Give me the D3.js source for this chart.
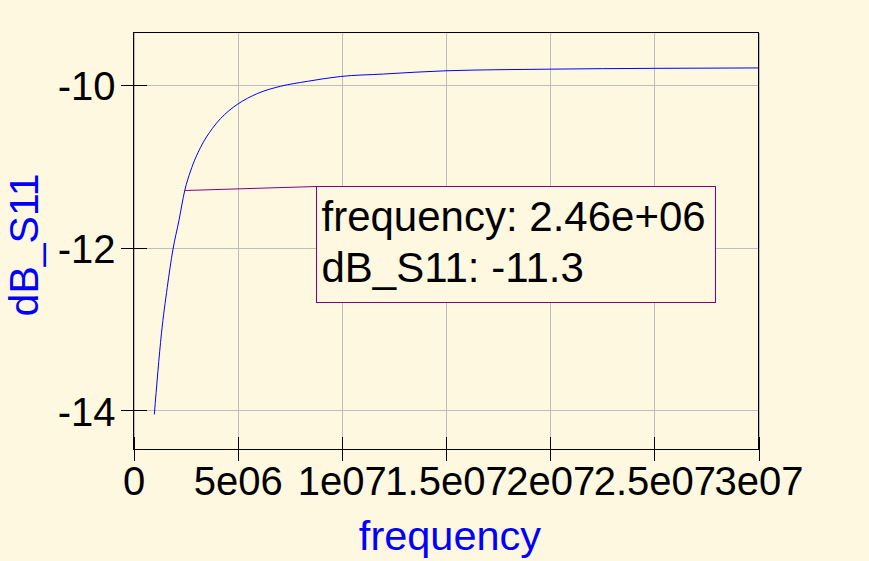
<!DOCTYPE html>
<html>
<head>
<meta charset="utf-8">
<style>
  body { margin: 0; background: #fff8e1; }
  svg { display: block; font-family: "Liberation Sans", Arial, sans-serif; }
  .grid line { stroke: #bdbdbd; shape-rendering: crispEdges; }
  .grid path { display: none; }
  .ticks line { stroke: #000; shape-rendering: crispEdges; }
  .ticks path { display: none; }
  .ticks text { font-size: 40px; fill: #000; font-family: "Liberation Sans", Arial, sans-serif; }
</style>
</head>
<body>
<script src="https://d3js.org/d3.v7.min.js"></script>
<script>

var width = 869,
    height = 561;

// plot frame
var plotLeft = 133.5, plotRight = 758.5, plotTop = 32.5, plotBottom = 449.5;

// data
var frequency = [1.0e6, 1.34e6, 1.62e6, 1.89e6, 2.18e6, 2.46e6, 2.74e6, 3.22e6, 3.78e6,
                 4.58e6, 5.0e6, 5.94e6, 7.06e6, 8.34e6, 9.94e6, 1.2e7, 1.5e7, 2.0e7, 2.5e7, 3.0e7];
var dB_S11 = [-14.05, -13.06, -12.49, -12.03, -11.67, -11.3, -11.06, -10.77, -10.54,
              -10.32, -10.24, -10.11, -10.02, -9.96, -9.90, -9.87, -9.83, -9.81, -9.80, -9.795];

var xTicks = [0, 5e6, 1e7, 1.5e7, 2e7, 2.5e7, 3e7];
var xTickLabels = ["0", "5e06", "1e07", "1.5e07", "2e07", "2.5e07", "3e07"];
var yTicks = [-14, -12, -10];
var yTickLabels = ["-14", "-12", "-10"];

// marker
var markerFreq = 2.46e6;
var markerDb = -11.3;

var svg = d3.select("body").append("svg")
    .attr("width", width)
    .attr("height", height);

svg.append("rect")
    .attr("width", width)
    .attr("height", height)
    .attr("fill", "#fff8e1");

var x = d3.scaleLinear().domain([0, 3e7]).range([plotLeft, plotRight]);
var y = d3.scaleLinear().domain([-14.48, -9.36]).range([plotBottom, plotTop]);

// grid
svg.append("g")
    .attr("class", "grid")
    .attr("transform", "translate(0," + (plotBottom - 13) + ")")
    .call(d3.axisBottom(x).tickValues(xTicks).tickSize(-(plotBottom - 13 - plotTop)).tickFormat(""));

svg.append("g")
    .attr("class", "grid")
    .attr("transform", "translate(" + (plotLeft + 13) + ",0)")
    .call(d3.axisLeft(y).tickValues(yTicks).tickSize(-(plotRight - plotLeft - 13)).tickFormat(""));

// frame
svg.append("rect")
    .attr("x", plotLeft)
    .attr("y", plotTop)
    .attr("width", plotRight - plotLeft)
    .attr("height", plotBottom - plotTop)
    .attr("fill", "none")
    .attr("stroke", "#000")
    .attr("shape-rendering", "crispEdges");

// x ticks (outside with labels, inside without)
svg.append("g")
    .attr("class", "ticks")
    .attr("transform", "translate(0," + plotBottom + ")")
    .call(d3.axisBottom(x).tickValues(xTicks).tickSize(11).tickPadding(6)
      .tickFormat(function(d, i) { return xTickLabels[i]; }));

svg.append("g")
    .attr("class", "ticks")
    .attr("transform", "translate(0," + plotBottom + ")")
    .call(d3.axisBottom(x).tickValues(xTicks).tickSize(-13).tickFormat(""));

// y ticks
var yAxis = svg.append("g")
    .attr("class", "ticks")
    .attr("transform", "translate(" + plotLeft + ",0)")
    .call(d3.axisLeft(y).tickValues(yTicks).tickSize(13).tickPadding(5)
      .tickFormat(function(d, i) { return yTickLabels[i]; }));
yAxis.selectAll("text").attr("dy", "0.37em");

svg.append("g")
    .attr("class", "ticks")
    .attr("transform", "translate(" + plotLeft + ",0)")
    .call(d3.axisLeft(y).tickValues(yTicks).tickSize(-13).tickFormat(""));

// curve
var line = d3.line()
    .curve(d3.curveMonotoneX)
    .x(function(d, i) { return x(frequency[i]); })
    .y(function(d, i) { return y(dB_S11[i]); });

svg.append("path")
    .datum(frequency)
    .attr("d", line)
    .attr("fill", "none")
    .attr("stroke", "#0000ff")
    .attr("stroke-width", 1);

// marker box
var boxX = plotLeft + 183, boxY = 186.5, boxW = 398.5, boxH = 116;

svg.append("line")
    .attr("x1", x(markerFreq))
    .attr("y1", y(markerDb))
    .attr("x2", boxX)
    .attr("y2", boxY)
    .attr("stroke", "#800080")
    .attr("stroke-width", 1);

svg.append("rect")
    .attr("x", boxX)
    .attr("y", boxY)
    .attr("width", boxW)
    .attr("height", boxH)
    .attr("fill", "#fff8e1")
    .attr("stroke", "#800080")
    .attr("shape-rendering", "crispEdges");

svg.append("text")
    .attr("x", boxX + 5)
    .attr("y", boxY + 44.5)
    .attr("font-size", 42)
    .text("frequency: " + d3.format(".2e")(markerFreq).replace("e+6", "e+06"));

svg.append("text")
    .attr("x", boxX + 5)
    .attr("y", boxY + 95.5)
    .attr("font-size", 42)
    .text("dB_S11: " + markerDb);

// axis titles
svg.append("text")
    .attr("x", 450)
    .attr("y", 550)
    .attr("text-anchor", "middle")
    .attr("font-size", 41.5)
    .attr("fill", "#0000ff")
    .text("frequency");

svg.append("text")
    .attr("transform", "translate(38,245) rotate(-90)")
    .attr("text-anchor", "middle")
    .attr("font-size", 41)
    .attr("fill", "#0000ff")
    .text("dB_S11");

</script>
</body>
</html>
